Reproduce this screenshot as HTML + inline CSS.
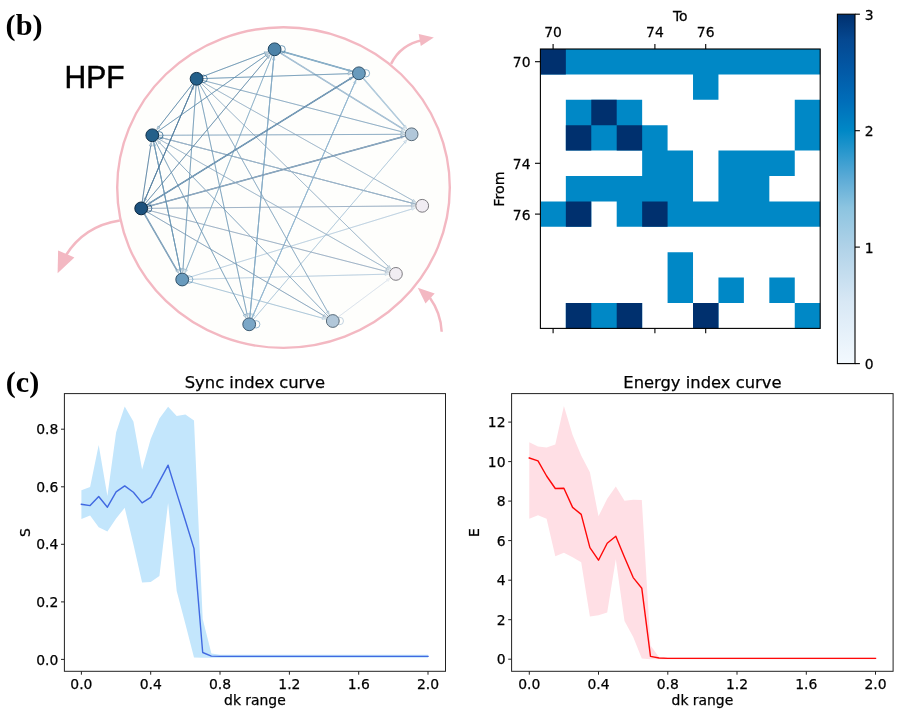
<!DOCTYPE html>
<html><head><meta charset="utf-8"><title>Figure</title>
<style>html,body{margin:0;padding:0;background:#fff}svg{display:block}.t text{stroke:#000;stroke-width:0.25px}</style></head>
<body>
<svg width="902" height="714" viewBox="0 0 902 714">
<defs><linearGradient id="cb" x1="0" y1="1" x2="0" y2="0"><stop offset="0.0000" stop-color="#f3f9fe"/><stop offset="0.1767" stop-color="#d8e8f5"/><stop offset="0.3333" stop-color="#b0d2e8"/><stop offset="0.4467" stop-color="#8cc4e0"/><stop offset="0.5333" stop-color="#5aaad6"/><stop offset="0.6667" stop-color="#0088c6"/><stop offset="0.7533" stop-color="#006db9"/><stop offset="0.8400" stop-color="#0259a6"/><stop offset="0.9267" stop-color="#054891"/><stop offset="1.0000" stop-color="#00306e"/></linearGradient></defs>
<rect width="902" height="714" fill="#fff"/>
<ellipse cx="283.5" cy="187.6" rx="166.3" ry="160.3" fill="#fefefc" stroke="#f3b8c2" stroke-width="2.4"/>
<path d="M391.1,63.9 Q400.5,44.5 423,40" fill="none" stroke="#f3b8c2" stroke-width="2.5"/>
<polygon points="418.7,34.1 433.8,37.6 420.8,46.1" fill="#f3b8c2"/>
<path d="M119.8,220.6 Q84,226 65.5,256" fill="none" stroke="#f3b8c2" stroke-width="2.5"/>
<polygon points="58.1,250.4 74.4,257.4 57.6,273.3" fill="#f3b8c2"/>
<path d="M441.7,331.7 Q440.8,313 430,298" fill="none" stroke="#f3b8c2" stroke-width="2.5"/>
<polygon points="417.8,287.8 434.7,293.5 425.5,303.5" fill="#f3b8c2"/>
<g fill="none" stroke-linecap="butt">
<line x1="332.8" y1="321.0" x2="387.2" y2="280.4" stroke="#cbd6e3" stroke-width="0.98" stroke-opacity="0.85"/>
<line x1="332.8" y1="321.0" x2="387.2" y2="280.4" stroke="#fff" stroke-width="0.41" stroke-opacity="0.5"/>
<polygon points="390.3,278.1 388.1,281.5 386.4,279.2" fill="#cbd6e3" fill-opacity="0.3" stroke="#cbd6e3" stroke-width="0.45" stroke-opacity="0.6"/>
<line x1="182.2" y1="279.5" x2="385.1" y2="274.2" stroke="#9fbcd3" stroke-width="0.98" stroke-opacity="0.85"/>
<line x1="182.2" y1="279.5" x2="385.1" y2="274.2" stroke="#fff" stroke-width="0.41" stroke-opacity="0.5"/>
<polygon points="388.9,274.1 385.1,275.6 385.1,272.8" fill="#9fbcd3" fill-opacity="0.3" stroke="#9fbcd3" stroke-width="0.45" stroke-opacity="0.6"/>
<line x1="182.2" y1="279.5" x2="411.9" y2="209.0" stroke="#9fbcd3" stroke-width="0.98" stroke-opacity="0.85"/>
<line x1="182.2" y1="279.5" x2="411.9" y2="209.0" stroke="#fff" stroke-width="0.41" stroke-opacity="0.5"/>
<polygon points="415.5,207.9 412.3,210.3 411.5,207.6" fill="#9fbcd3" fill-opacity="0.3" stroke="#9fbcd3" stroke-width="0.45" stroke-opacity="0.6"/>
<line x1="249.2" y1="324.3" x2="404.6" y2="142.5" stroke="#91b4ce" stroke-width="0.98" stroke-opacity="0.85"/>
<line x1="249.2" y1="324.3" x2="404.6" y2="142.5" stroke="#fff" stroke-width="0.41" stroke-opacity="0.5"/>
<polygon points="407.1,139.6 405.6,143.4 403.5,141.6" fill="#91b4ce" fill-opacity="0.3" stroke="#91b4ce" stroke-width="0.45" stroke-opacity="0.6"/>
<line x1="182.2" y1="279.5" x2="322.4" y2="318.1" stroke="#86adc8" stroke-width="0.98" stroke-opacity="0.85"/>
<line x1="182.2" y1="279.5" x2="322.4" y2="318.1" stroke="#fff" stroke-width="0.41" stroke-opacity="0.5"/>
<polygon points="326.1,319.1 322.0,319.5 322.8,316.8" fill="#86adc8" fill-opacity="0.3" stroke="#86adc8" stroke-width="0.45" stroke-opacity="0.6"/>
<line x1="358.9" y1="73.3" x2="404.5" y2="126.1" stroke="#86adc8" stroke-width="1.45" stroke-opacity="0.85"/>
<line x1="358.9" y1="73.3" x2="404.5" y2="126.1" stroke="#fff" stroke-width="0.61" stroke-opacity="0.5"/>
<polygon points="407.0,129.0 403.5,127.0 405.6,125.2" fill="#86adc8" fill-opacity="0.3" stroke="#86adc8" stroke-width="0.45" stroke-opacity="0.6"/>
<line x1="249.2" y1="324.3" x2="354.6" y2="83.2" stroke="#70a0c1" stroke-width="0.98" stroke-opacity="0.85"/>
<line x1="249.2" y1="324.3" x2="354.6" y2="83.2" stroke="#fff" stroke-width="0.41" stroke-opacity="0.5"/>
<polygon points="356.1,79.7 355.9,83.8 353.3,82.6" fill="#70a0c1" fill-opacity="0.3" stroke="#70a0c1" stroke-width="0.45" stroke-opacity="0.6"/>
<line x1="358.9" y1="73.3" x2="253.5" y2="314.4" stroke="#70a0c1" stroke-width="0.98" stroke-opacity="0.85"/>
<line x1="358.9" y1="73.3" x2="253.5" y2="314.4" stroke="#fff" stroke-width="0.41" stroke-opacity="0.5"/>
<polygon points="252.0,317.9 252.2,313.8 254.8,315.0" fill="#70a0c1" fill-opacity="0.3" stroke="#70a0c1" stroke-width="0.45" stroke-opacity="0.6"/>
<line x1="274.6" y1="49.3" x2="402.4" y2="128.6" stroke="#759ebc" stroke-width="1.45" stroke-opacity="0.85"/>
<line x1="274.6" y1="49.3" x2="402.4" y2="128.6" stroke="#fff" stroke-width="0.61" stroke-opacity="0.5"/>
<polygon points="405.7,130.6 401.7,129.8 403.2,127.4" fill="#759ebc" fill-opacity="0.3" stroke="#759ebc" stroke-width="0.45" stroke-opacity="0.6"/>
<line x1="196.6" y1="78.8" x2="388.2" y2="266.3" stroke="#7698b4" stroke-width="0.98" stroke-opacity="0.85"/>
<line x1="196.6" y1="78.8" x2="388.2" y2="266.3" stroke="#fff" stroke-width="0.41" stroke-opacity="0.5"/>
<polygon points="390.9,269.0 387.2,267.3 389.2,265.3" fill="#7698b4" fill-opacity="0.3" stroke="#7698b4" stroke-width="0.45" stroke-opacity="0.6"/>
<line x1="196.6" y1="78.8" x2="412.8" y2="200.5" stroke="#7698b4" stroke-width="0.98" stroke-opacity="0.85"/>
<line x1="196.6" y1="78.8" x2="412.8" y2="200.5" stroke="#fff" stroke-width="0.41" stroke-opacity="0.5"/>
<polygon points="416.1,202.4 412.1,201.7 413.5,199.3" fill="#7698b4" fill-opacity="0.3" stroke="#7698b4" stroke-width="0.45" stroke-opacity="0.6"/>
<line x1="152.3" y1="135.3" x2="386.5" y2="268.6" stroke="#7698b4" stroke-width="0.98" stroke-opacity="0.85"/>
<line x1="152.3" y1="135.3" x2="386.5" y2="268.6" stroke="#fff" stroke-width="0.41" stroke-opacity="0.5"/>
<polygon points="389.8,270.4 385.8,269.8 387.2,267.3" fill="#7698b4" fill-opacity="0.3" stroke="#7698b4" stroke-width="0.45" stroke-opacity="0.6"/>
<line x1="152.3" y1="135.3" x2="411.8" y2="203.1" stroke="#7698b4" stroke-width="0.98" stroke-opacity="0.85"/>
<line x1="152.3" y1="135.3" x2="411.8" y2="203.1" stroke="#fff" stroke-width="0.41" stroke-opacity="0.5"/>
<polygon points="415.4,204.0 411.4,204.4 412.1,201.7" fill="#7698b4" fill-opacity="0.3" stroke="#7698b4" stroke-width="0.45" stroke-opacity="0.6"/>
<line x1="422.2" y1="205.8" x2="162.7" y2="138.0" stroke="#7698b4" stroke-width="0.98" stroke-opacity="0.85"/>
<line x1="422.2" y1="205.8" x2="162.7" y2="138.0" stroke="#fff" stroke-width="0.41" stroke-opacity="0.5"/>
<polygon points="159.1,137.1 163.1,136.7 162.4,139.4" fill="#7698b4" fill-opacity="0.3" stroke="#7698b4" stroke-width="0.45" stroke-opacity="0.6"/>
<line x1="141.2" y1="208.4" x2="385.4" y2="271.2" stroke="#718fac" stroke-width="0.98" stroke-opacity="0.85"/>
<line x1="141.2" y1="208.4" x2="385.4" y2="271.2" stroke="#fff" stroke-width="0.41" stroke-opacity="0.5"/>
<polygon points="389.1,272.2 385.1,272.6 385.8,269.9" fill="#718fac" fill-opacity="0.3" stroke="#718fac" stroke-width="0.45" stroke-opacity="0.6"/>
<line x1="141.2" y1="208.4" x2="411.4" y2="205.9" stroke="#718fac" stroke-width="0.98" stroke-opacity="0.85"/>
<line x1="141.2" y1="208.4" x2="411.4" y2="205.9" stroke="#fff" stroke-width="0.41" stroke-opacity="0.5"/>
<polygon points="415.2,205.9 411.4,207.3 411.4,204.5" fill="#718fac" fill-opacity="0.3" stroke="#718fac" stroke-width="0.45" stroke-opacity="0.6"/>
<line x1="249.2" y1="324.3" x2="273.6" y2="60.1" stroke="#5f91b4" stroke-width="0.98" stroke-opacity="0.85"/>
<line x1="249.2" y1="324.3" x2="273.6" y2="60.1" stroke="#fff" stroke-width="0.41" stroke-opacity="0.5"/>
<polygon points="274.0,56.3 275.0,60.2 272.2,59.9" fill="#5f91b4" fill-opacity="0.3" stroke="#5f91b4" stroke-width="0.45" stroke-opacity="0.6"/>
<line x1="274.6" y1="49.3" x2="250.2" y2="313.5" stroke="#5f91b4" stroke-width="0.98" stroke-opacity="0.85"/>
<line x1="274.6" y1="49.3" x2="250.2" y2="313.5" stroke="#fff" stroke-width="0.41" stroke-opacity="0.5"/>
<polygon points="249.8,317.3 248.8,313.4 251.6,313.7" fill="#5f91b4" fill-opacity="0.3" stroke="#5f91b4" stroke-width="0.45" stroke-opacity="0.6"/>
<line x1="274.6" y1="49.3" x2="186.2" y2="269.5" stroke="#588db0" stroke-width="0.98" stroke-opacity="0.85"/>
<line x1="274.6" y1="49.3" x2="186.2" y2="269.5" stroke="#fff" stroke-width="0.41" stroke-opacity="0.5"/>
<polygon points="184.8,273.0 184.9,269.0 187.5,270.0" fill="#588db0" fill-opacity="0.3" stroke="#588db0" stroke-width="0.45" stroke-opacity="0.6"/>
<line x1="274.6" y1="49.3" x2="348.5" y2="70.3" stroke="#588db0" stroke-width="0.98" stroke-opacity="0.85"/>
<line x1="274.6" y1="49.3" x2="348.5" y2="70.3" stroke="#fff" stroke-width="0.41" stroke-opacity="0.5"/>
<polygon points="352.2,71.4 348.1,71.7 348.9,69.0" fill="#588db0" fill-opacity="0.3" stroke="#588db0" stroke-width="0.45" stroke-opacity="0.6"/>
<line x1="358.9" y1="73.3" x2="285.0" y2="52.3" stroke="#588db0" stroke-width="1.45" stroke-opacity="0.85"/>
<line x1="358.9" y1="73.3" x2="285.0" y2="52.3" stroke="#fff" stroke-width="0.61" stroke-opacity="0.5"/>
<polygon points="281.3,51.2 285.4,50.9 284.6,53.6" fill="#588db0" fill-opacity="0.3" stroke="#588db0" stroke-width="0.45" stroke-opacity="0.6"/>
<line x1="196.6" y1="78.8" x2="401.1" y2="131.6" stroke="#5c89aa" stroke-width="0.98" stroke-opacity="0.85"/>
<line x1="196.6" y1="78.8" x2="401.1" y2="131.6" stroke="#fff" stroke-width="0.41" stroke-opacity="0.5"/>
<polygon points="404.8,132.6 400.8,133.0 401.5,130.2" fill="#5c89aa" fill-opacity="0.3" stroke="#5c89aa" stroke-width="0.45" stroke-opacity="0.6"/>
<line x1="196.6" y1="78.8" x2="327.5" y2="311.6" stroke="#5c89aa" stroke-width="0.98" stroke-opacity="0.85"/>
<line x1="196.6" y1="78.8" x2="327.5" y2="311.6" stroke="#fff" stroke-width="0.41" stroke-opacity="0.5"/>
<polygon points="329.4,314.9 326.3,312.3 328.7,310.9" fill="#5c89aa" fill-opacity="0.3" stroke="#5c89aa" stroke-width="0.45" stroke-opacity="0.6"/>
<line x1="152.3" y1="135.3" x2="400.8" y2="134.3" stroke="#5c89aa" stroke-width="0.98" stroke-opacity="0.85"/>
<line x1="152.3" y1="135.3" x2="400.8" y2="134.3" stroke="#fff" stroke-width="0.41" stroke-opacity="0.5"/>
<polygon points="404.6,134.3 400.8,135.7 400.8,132.9" fill="#5c89aa" fill-opacity="0.3" stroke="#5c89aa" stroke-width="0.45" stroke-opacity="0.6"/>
<line x1="332.8" y1="321.0" x2="159.8" y2="143.0" stroke="#5c89aa" stroke-width="0.98" stroke-opacity="0.85"/>
<line x1="332.8" y1="321.0" x2="159.8" y2="143.0" stroke="#fff" stroke-width="0.41" stroke-opacity="0.5"/>
<polygon points="157.2,140.3 160.8,142.1 158.8,144.0" fill="#5c89aa" fill-opacity="0.3" stroke="#5c89aa" stroke-width="0.45" stroke-opacity="0.6"/>
<line x1="411.6" y1="134.3" x2="151.6" y2="205.5" stroke="#5880a2" stroke-width="0.98" stroke-opacity="0.85"/>
<line x1="411.6" y1="134.3" x2="151.6" y2="205.5" stroke="#fff" stroke-width="0.41" stroke-opacity="0.5"/>
<polygon points="148.0,206.5 151.2,204.2 152.0,206.9" fill="#5880a2" fill-opacity="0.3" stroke="#5880a2" stroke-width="0.45" stroke-opacity="0.6"/>
<line x1="141.2" y1="208.4" x2="401.2" y2="137.2" stroke="#5880a2" stroke-width="1.45" stroke-opacity="0.85"/>
<line x1="141.2" y1="208.4" x2="401.2" y2="137.2" stroke="#fff" stroke-width="0.61" stroke-opacity="0.5"/>
<polygon points="404.8,136.2 401.6,138.5 400.8,135.8" fill="#5880a2" fill-opacity="0.3" stroke="#5880a2" stroke-width="0.45" stroke-opacity="0.6"/>
<line x1="141.2" y1="208.4" x2="323.5" y2="315.5" stroke="#5880a2" stroke-width="0.98" stroke-opacity="0.85"/>
<line x1="141.2" y1="208.4" x2="323.5" y2="315.5" stroke="#fff" stroke-width="0.41" stroke-opacity="0.5"/>
<polygon points="326.8,317.5 322.8,316.7 324.2,314.3" fill="#5880a2" fill-opacity="0.3" stroke="#5880a2" stroke-width="0.45" stroke-opacity="0.6"/>
<line x1="196.6" y1="78.8" x2="246.9" y2="313.7" stroke="#477ca2" stroke-width="0.98" stroke-opacity="0.85"/>
<line x1="196.6" y1="78.8" x2="246.9" y2="313.7" stroke="#fff" stroke-width="0.41" stroke-opacity="0.5"/>
<polygon points="247.7,317.5 245.6,314.0 248.3,313.4" fill="#477ca2" fill-opacity="0.3" stroke="#477ca2" stroke-width="0.45" stroke-opacity="0.6"/>
<line x1="152.3" y1="135.3" x2="244.3" y2="314.7" stroke="#477ca2" stroke-width="0.98" stroke-opacity="0.85"/>
<line x1="152.3" y1="135.3" x2="244.3" y2="314.7" stroke="#fff" stroke-width="0.41" stroke-opacity="0.5"/>
<polygon points="246.0,318.1 243.0,315.3 245.5,314.1" fill="#477ca2" fill-opacity="0.3" stroke="#477ca2" stroke-width="0.45" stroke-opacity="0.6"/>
<line x1="196.6" y1="78.8" x2="183.0" y2="268.7" stroke="#40789e" stroke-width="0.98" stroke-opacity="0.85"/>
<line x1="196.6" y1="78.8" x2="183.0" y2="268.7" stroke="#fff" stroke-width="0.41" stroke-opacity="0.5"/>
<polygon points="182.7,272.5 181.6,268.6 184.4,268.8" fill="#40789e" fill-opacity="0.3" stroke="#40789e" stroke-width="0.45" stroke-opacity="0.6"/>
<line x1="196.6" y1="78.8" x2="348.1" y2="73.7" stroke="#40789e" stroke-width="0.98" stroke-opacity="0.85"/>
<line x1="196.6" y1="78.8" x2="348.1" y2="73.7" stroke="#fff" stroke-width="0.41" stroke-opacity="0.5"/>
<polygon points="351.9,73.5 348.2,75.1 348.1,72.3" fill="#40789e" fill-opacity="0.3" stroke="#40789e" stroke-width="0.45" stroke-opacity="0.6"/>
<line x1="182.2" y1="279.5" x2="154.5" y2="145.9" stroke="#40789e" stroke-width="0.98" stroke-opacity="0.85"/>
<line x1="182.2" y1="279.5" x2="154.5" y2="145.9" stroke="#fff" stroke-width="0.41" stroke-opacity="0.5"/>
<polygon points="153.7,142.2 155.9,145.6 153.1,146.2" fill="#40789e" fill-opacity="0.3" stroke="#40789e" stroke-width="0.45" stroke-opacity="0.6"/>
<line x1="152.3" y1="135.3" x2="180.0" y2="268.9" stroke="#40789e" stroke-width="0.98" stroke-opacity="0.85"/>
<line x1="152.3" y1="135.3" x2="180.0" y2="268.9" stroke="#fff" stroke-width="0.41" stroke-opacity="0.5"/>
<polygon points="180.8,272.6 178.6,269.2 181.4,268.6" fill="#40789e" fill-opacity="0.3" stroke="#40789e" stroke-width="0.45" stroke-opacity="0.6"/>
<line x1="141.2" y1="208.4" x2="176.8" y2="270.1" stroke="#3b6f97" stroke-width="1.45" stroke-opacity="0.85"/>
<line x1="141.2" y1="208.4" x2="176.8" y2="270.1" stroke="#fff" stroke-width="0.61" stroke-opacity="0.5"/>
<polygon points="178.7,273.4 175.6,270.8 178.0,269.4" fill="#3b6f97" fill-opacity="0.3" stroke="#3b6f97" stroke-width="0.45" stroke-opacity="0.6"/>
<line x1="141.2" y1="208.4" x2="349.7" y2="79.0" stroke="#3b6f97" stroke-width="0.98" stroke-opacity="0.85"/>
<line x1="141.2" y1="208.4" x2="349.7" y2="79.0" stroke="#fff" stroke-width="0.41" stroke-opacity="0.5"/>
<polygon points="353.0,77.0 350.5,80.2 349.0,77.8" fill="#3b6f97" fill-opacity="0.3" stroke="#3b6f97" stroke-width="0.45" stroke-opacity="0.6"/>
<line x1="358.9" y1="73.3" x2="150.4" y2="202.7" stroke="#3b6f97" stroke-width="1.45" stroke-opacity="0.85"/>
<line x1="358.9" y1="73.3" x2="150.4" y2="202.7" stroke="#fff" stroke-width="0.61" stroke-opacity="0.5"/>
<polygon points="147.1,204.7 149.6,201.5 151.1,203.9" fill="#3b6f97" fill-opacity="0.3" stroke="#3b6f97" stroke-width="0.45" stroke-opacity="0.6"/>
<line x1="196.6" y1="78.8" x2="264.5" y2="53.1" stroke="#346e96" stroke-width="0.98" stroke-opacity="0.85"/>
<line x1="196.6" y1="78.8" x2="264.5" y2="53.1" stroke="#fff" stroke-width="0.41" stroke-opacity="0.5"/>
<polygon points="268.1,51.8 265.0,54.4 264.0,51.8" fill="#346e96" fill-opacity="0.3" stroke="#346e96" stroke-width="0.45" stroke-opacity="0.6"/>
<line x1="152.3" y1="135.3" x2="265.8" y2="55.5" stroke="#346e96" stroke-width="0.98" stroke-opacity="0.85"/>
<line x1="152.3" y1="135.3" x2="265.8" y2="55.5" stroke="#fff" stroke-width="0.41" stroke-opacity="0.5"/>
<polygon points="268.9,53.3 266.6,56.7 265.0,54.4" fill="#346e96" fill-opacity="0.3" stroke="#346e96" stroke-width="0.45" stroke-opacity="0.6"/>
<line x1="141.2" y1="208.4" x2="267.7" y2="57.6" stroke="#30658e" stroke-width="0.98" stroke-opacity="0.85"/>
<line x1="141.2" y1="208.4" x2="267.7" y2="57.6" stroke="#fff" stroke-width="0.41" stroke-opacity="0.5"/>
<polygon points="270.1,54.7 268.7,58.5 266.6,56.7" fill="#30658e" fill-opacity="0.3" stroke="#30658e" stroke-width="0.45" stroke-opacity="0.6"/>
<line x1="196.6" y1="78.8" x2="159.0" y2="126.8" stroke="#24608a" stroke-width="0.98" stroke-opacity="0.85"/>
<line x1="196.6" y1="78.8" x2="159.0" y2="126.8" stroke="#fff" stroke-width="0.41" stroke-opacity="0.5"/>
<polygon points="156.6,129.8 157.9,125.9 160.1,127.7" fill="#24608a" fill-opacity="0.3" stroke="#24608a" stroke-width="0.45" stroke-opacity="0.6"/>
<line x1="196.6" y1="78.8" x2="145.4" y2="198.5" stroke="#1f5782" stroke-width="0.98" stroke-opacity="0.85"/>
<line x1="196.6" y1="78.8" x2="145.4" y2="198.5" stroke="#fff" stroke-width="0.41" stroke-opacity="0.5"/>
<polygon points="144.0,202.0 144.2,197.9 146.7,199.0" fill="#1f5782" fill-opacity="0.3" stroke="#1f5782" stroke-width="0.45" stroke-opacity="0.6"/>
<line x1="141.2" y1="208.4" x2="192.4" y2="88.7" stroke="#1f5782" stroke-width="0.98" stroke-opacity="0.85"/>
<line x1="141.2" y1="208.4" x2="192.4" y2="88.7" stroke="#fff" stroke-width="0.41" stroke-opacity="0.5"/>
<polygon points="193.8,85.2 193.6,89.3 191.1,88.2" fill="#1f5782" fill-opacity="0.3" stroke="#1f5782" stroke-width="0.45" stroke-opacity="0.6"/>
<line x1="141.2" y1="208.4" x2="150.7" y2="146.0" stroke="#1f5782" stroke-width="0.98" stroke-opacity="0.85"/>
<line x1="141.2" y1="208.4" x2="150.7" y2="146.0" stroke="#fff" stroke-width="0.41" stroke-opacity="0.5"/>
<polygon points="151.2,142.2 152.1,146.2 149.3,145.8" fill="#1f5782" fill-opacity="0.3" stroke="#1f5782" stroke-width="0.45" stroke-opacity="0.6"/>
</g>
<circle cx="203.6" cy="78.8" r="3.7" fill="none" stroke="#24608a" stroke-width="0.9" stroke-opacity="0.85"/>
<circle cx="256.2" cy="324.3" r="3.7" fill="none" stroke="#7ba7c7" stroke-width="0.9" stroke-opacity="0.85"/>
<circle cx="281.6" cy="49.3" r="3.7" fill="none" stroke="#4d83a8" stroke-width="0.9" stroke-opacity="0.85"/>
<circle cx="189.2" cy="279.5" r="3.7" fill="none" stroke="#699bbd" stroke-width="0.9" stroke-opacity="0.85"/>
<circle cx="159.3" cy="135.3" r="3.7" fill="none" stroke="#24608a" stroke-width="0.9" stroke-opacity="0.85"/>
<circle cx="148.2" cy="208.4" r="3.7" fill="none" stroke="#1c517d" stroke-width="0.9" stroke-opacity="0.85"/>
<circle cx="339.8" cy="321.0" r="3.7" fill="none" stroke="#b1c7d9" stroke-width="0.9" stroke-opacity="0.85"/>
<circle cx="365.9" cy="73.3" r="3.7" fill="none" stroke="#699bbd" stroke-width="0.9" stroke-opacity="0.85"/>
<circle cx="274.6" cy="49.3" r="6.4" fill="#4d83a8" stroke="#1f4560" stroke-width="1"/>
<circle cx="358.9" cy="73.3" r="6.4" fill="#699bbd" stroke="#2f5068" stroke-width="1"/>
<circle cx="411.6" cy="134.3" r="6.4" fill="#b1c7d9" stroke="#5a6c7a" stroke-width="1"/>
<circle cx="422.2" cy="205.8" r="6.4" fill="#f1edf3" stroke="#7d7b80" stroke-width="1"/>
<circle cx="395.9" cy="273.9" r="6.4" fill="#f1edf3" stroke="#7d7b80" stroke-width="1"/>
<circle cx="332.8" cy="321" r="6.4" fill="#b1c7d9" stroke="#5a6c7a" stroke-width="1"/>
<circle cx="249.2" cy="324.3" r="6.4" fill="#7ba7c7" stroke="#3c5a72" stroke-width="1"/>
<circle cx="182.2" cy="279.5" r="6.4" fill="#699bbd" stroke="#2f5068" stroke-width="1"/>
<circle cx="141.2" cy="208.4" r="6.4" fill="#1c517d" stroke="#0c2840" stroke-width="1"/>
<circle cx="152.3" cy="135.3" r="6.4" fill="#24608a" stroke="#10314b" stroke-width="1"/>
<circle cx="196.6" cy="78.8" r="6.4" fill="#24608a" stroke="#10314b" stroke-width="1"/>
<text transform="translate(5.6,34.5) scale(1.04,1)" font-family="'Liberation Serif',serif" font-weight="bold" font-size="29">(b)</text>
<text transform="translate(5.8,391.5) scale(1.04,1)" font-family="'Liberation Serif',serif" font-weight="bold" font-size="29">(c)</text>
<text transform="translate(64.6,88) scale(1,1.04)" font-family="'Liberation Sans',sans-serif" font-size="30" stroke="#000" stroke-width="0.5">HPF</text>
<g font-family="'DejaVu Sans',sans-serif" font-size="13.9" fill="#000" class="t">
<path d="M540.40,49.00H820.20V74.40H540.40ZM693.02,74.40H718.45V99.80H693.02ZM565.84,99.80H642.15V125.20H565.84ZM794.76,99.80H820.20V125.20H794.76ZM565.84,125.20H667.58V150.60H565.84ZM794.76,125.20H820.20V150.60H794.76ZM642.15,150.60H693.02V176.00H642.15ZM718.45,150.60H794.76V176.00H718.45ZM565.84,176.00H693.02V201.40H565.84ZM718.45,176.00H769.33V201.40H718.45ZM540.40,201.40H591.27V226.80H540.40ZM616.71,201.40H820.20V226.80H616.71ZM667.58,252.20H693.02V277.60H667.58ZM667.58,277.60H693.02V303.00H667.58ZM718.45,277.60H743.89V303.00H718.45ZM769.33,277.60H794.76V303.00H769.33ZM565.84,303.00H642.15V328.40H565.84ZM693.02,303.00H718.45V328.40H693.02ZM794.76,303.00H820.20V328.40H794.76Z" fill="#0088c6"/>
<path d="M540.40,49.00H565.84V74.40H540.40ZM591.27,99.80H616.71V125.20H591.27ZM565.84,125.20H591.27V150.60H565.84ZM616.71,125.20H642.15V150.60H616.71ZM565.84,201.40H591.27V226.80H565.84ZM642.15,201.40H667.58V226.80H642.15ZM565.84,303.00H591.27V328.40H565.84ZM616.71,303.00H642.15V328.40H616.71ZM693.02,303.00H718.45V328.40H693.02Z" fill="#00306e"/>
<rect x="540.4" y="49.0" width="279.8" height="279.4" fill="none" stroke="#000" stroke-width="1.1"/>
<line x1="553.1" y1="49.0" x2="553.1" y2="44.1" stroke="#000" stroke-width="1.1"/>
<line x1="553.1" y1="328.4" x2="553.1" y2="333.29999999999995" stroke="#000" stroke-width="1.1"/>
<line x1="540.4" y1="61.7" x2="535.0" y2="61.7" stroke="#000" stroke-width="1.1"/>
<text transform="translate(553.1,36.8) scale(1,1.07)" text-anchor="middle">70</text>
<text transform="translate(530.5,67.2) scale(1,1.07)" text-anchor="end">70</text>
<line x1="654.9" y1="49.0" x2="654.9" y2="44.1" stroke="#000" stroke-width="1.1"/>
<line x1="654.9" y1="328.4" x2="654.9" y2="333.29999999999995" stroke="#000" stroke-width="1.1"/>
<line x1="540.4" y1="163.3" x2="535.0" y2="163.3" stroke="#000" stroke-width="1.1"/>
<text transform="translate(654.9,36.8) scale(1,1.07)" text-anchor="middle">74</text>
<text transform="translate(530.5,168.9) scale(1,1.07)" text-anchor="end">74</text>
<line x1="705.7" y1="49.0" x2="705.7" y2="44.1" stroke="#000" stroke-width="1.1"/>
<line x1="705.7" y1="328.4" x2="705.7" y2="333.29999999999995" stroke="#000" stroke-width="1.1"/>
<line x1="540.4" y1="214.1" x2="535.0" y2="214.1" stroke="#000" stroke-width="1.1"/>
<text transform="translate(705.7,36.8) scale(1,1.07)" text-anchor="middle">76</text>
<text transform="translate(530.5,219.7) scale(1,1.07)" text-anchor="end">76</text>
<text transform="translate(680.3,20.5) scale(1,1.07)" text-anchor="middle">To</text>
<text transform="translate(504.2,189.1) scale(1,1.02) rotate(-90)" text-anchor="middle">From</text>
<rect x="837.4" y="14.2" width="17.6" height="349.4" fill="url(#cb)" stroke="#000" stroke-width="1.1"/>
<line x1="855.0" y1="363.6" x2="859.9" y2="363.6" stroke="#000" stroke-width="1.1"/>
<text transform="translate(864.8,369.3) scale(1,1.07)">0</text>
<line x1="855.0" y1="247.1" x2="859.9" y2="247.1" stroke="#000" stroke-width="1.1"/>
<text transform="translate(864.8,252.8) scale(1,1.07)">1</text>
<line x1="855.0" y1="130.7" x2="859.9" y2="130.7" stroke="#000" stroke-width="1.1"/>
<text transform="translate(864.8,136.4) scale(1,1.07)">2</text>
<line x1="855.0" y1="14.2" x2="859.9" y2="14.2" stroke="#000" stroke-width="1.1"/>
<text transform="translate(864.8,19.9) scale(1,1.07)">3</text>
<polygon points="81.4,490.2 90.1,487.0 98.7,445.0 107.4,496.0 116.1,432.4 124.7,406.5 133.4,421.4 142.1,469.5 150.7,439.0 159.4,418.6 168.1,406.8 176.7,416.0 185.4,414.5 194.0,420.6 202.7,619.1 211.4,653.6 220.0,654.8 228.7,654.8 237.4,654.8 246.0,654.8 254.7,654.8 263.4,654.8 272.0,654.8 280.7,654.8 289.4,654.8 298.0,654.8 306.7,654.8 315.4,654.8 324.0,654.8 332.7,654.8 341.4,654.8 350.0,654.8 358.7,654.8 367.3,654.8 376.0,654.8 384.7,654.8 393.3,654.8 402.0,654.8 410.7,654.8 419.3,654.8 428.0,654.8 428.0,657.7 419.3,657.7 410.7,657.7 402.0,657.7 393.3,657.7 384.7,657.7 376.0,657.7 367.3,657.7 358.7,657.7 350.0,657.7 341.4,657.7 332.7,657.7 324.0,657.7 315.4,657.7 306.7,657.7 298.0,657.7 289.4,657.7 280.7,657.7 272.0,657.7 263.4,657.7 254.7,657.7 246.0,657.7 237.4,657.7 228.7,657.7 220.0,657.7 211.4,657.7 202.7,657.7 194.0,657.4 185.4,624.1 176.7,590.9 168.1,502.9 159.4,576.1 150.7,582.0 142.1,582.6 133.4,544.3 124.7,507.8 116.1,518.4 107.4,531.6 98.7,527.3 90.1,515.5 81.4,519.0" fill="#c3e6fc"/>
<polyline points="81.4,504.3 90.1,505.6 98.7,496.5 107.4,507.2 116.1,491.9 124.7,485.9 133.4,492.2 142.1,502.9 150.7,497.4 159.4,481.3 168.1,465.2 176.7,493.1 185.4,520.7 194.0,548.6 202.7,652.5 211.4,656.1 220.0,656.4 228.7,656.4 237.4,656.4 246.0,656.4 254.7,656.4 263.4,656.4 272.0,656.4 280.7,656.4 289.4,656.4 298.0,656.4 306.7,656.4 315.4,656.4 324.0,656.4 332.7,656.4 341.4,656.4 350.0,656.4 358.7,656.4 367.3,656.4 376.0,656.4 384.7,656.4 393.3,656.4 402.0,656.4 410.7,656.4 419.3,656.4 428.0,656.4" fill="none" stroke="#4169e1" stroke-width="1.4" stroke-linejoin="round" stroke-linecap="square"/>
<rect x="64.4" y="393.6" width="381.1" height="277.7" fill="none" stroke="#222" stroke-width="1"/>
<line x1="81.4" y1="671.3" x2="81.4" y2="674.6999999999999" stroke="#222" stroke-width="1"/>
<text x="81.4" y="688.6" text-anchor="middle">0.0</text>
<line x1="150.7" y1="671.3" x2="150.7" y2="674.6999999999999" stroke="#222" stroke-width="1"/>
<text x="150.7" y="688.6" text-anchor="middle">0.4</text>
<line x1="220.0" y1="671.3" x2="220.0" y2="674.6999999999999" stroke="#222" stroke-width="1"/>
<text x="220.0" y="688.6" text-anchor="middle">0.8</text>
<line x1="289.4" y1="671.3" x2="289.4" y2="674.6999999999999" stroke="#222" stroke-width="1"/>
<text x="289.4" y="688.6" text-anchor="middle">1.2</text>
<line x1="358.7" y1="671.3" x2="358.7" y2="674.6999999999999" stroke="#222" stroke-width="1"/>
<text x="358.7" y="688.6" text-anchor="middle">1.6</text>
<line x1="428.0" y1="671.3" x2="428.0" y2="674.6999999999999" stroke="#222" stroke-width="1"/>
<text x="428.0" y="688.6" text-anchor="middle">2.0</text>
<line x1="64.4" y1="659.4" x2="61.00000000000001" y2="659.4" stroke="#222" stroke-width="1"/>
<text x="58.3" y="664.5" text-anchor="end">0.0</text>
<line x1="64.4" y1="601.9" x2="61.00000000000001" y2="601.9" stroke="#222" stroke-width="1"/>
<text x="58.3" y="607.0" text-anchor="end">0.2</text>
<line x1="64.4" y1="544.3" x2="61.00000000000001" y2="544.3" stroke="#222" stroke-width="1"/>
<text x="58.3" y="549.4" text-anchor="end">0.4</text>
<line x1="64.4" y1="486.8" x2="61.00000000000001" y2="486.8" stroke="#222" stroke-width="1"/>
<text x="58.3" y="491.9" text-anchor="end">0.6</text>
<line x1="64.4" y1="429.2" x2="61.00000000000001" y2="429.2" stroke="#222" stroke-width="1"/>
<text x="58.3" y="434.3" text-anchor="end">0.8</text>
<text x="254.9" y="705.2" text-anchor="middle">dk range</text>
<text transform="translate(29.8,532.5) rotate(-90)" text-anchor="middle">S</text>
<text x="254.9" y="388.4" text-anchor="middle" font-size="16.35">Sync index curve</text>
<polygon points="529.3,442.2 538.0,446.6 546.6,447.6 555.3,444.6 563.9,406.1 572.6,434.9 581.2,455.5 589.9,472.3 598.5,516.3 607.2,498.7 615.8,486.5 624.5,500.7 633.2,499.7 641.8,500.1 650.5,645.4 659.1,657.2 667.8,657.6 676.4,657.6 685.1,657.6 693.7,657.6 702.4,657.6 711.1,657.6 719.7,657.6 728.4,657.6 737.0,657.6 745.7,657.6 754.3,657.6 763.0,657.6 771.6,657.6 780.3,657.6 789.0,657.6 797.6,657.6 806.3,657.6 814.9,657.6 823.6,657.6 832.2,657.6 840.9,657.6 849.5,657.6 858.2,657.6 866.8,657.6 875.5,657.6 875.5,659.2 866.8,659.2 858.2,659.2 849.5,659.2 840.9,659.2 832.2,659.2 823.6,659.2 814.9,659.2 806.3,659.2 797.6,659.2 789.0,659.2 780.3,659.2 771.6,659.2 763.0,659.2 754.3,659.2 745.7,659.2 737.0,659.2 728.4,659.2 719.7,659.2 711.1,659.2 702.4,659.2 693.7,659.2 685.1,659.2 676.4,659.2 667.8,659.2 659.1,659.2 650.5,659.2 641.8,658.4 633.2,636.9 624.5,621.1 615.8,559.2 607.2,612.4 598.5,615.3 589.9,616.5 581.2,562.2 572.6,557.2 563.9,552.7 555.3,556.3 546.6,518.7 538.0,515.3 529.3,518.7" fill="#ffdfe5"/>
<polyline points="529.3,458.0 538.0,460.8 546.6,476.0 555.3,488.5 563.9,488.3 572.6,507.4 581.2,514.4 589.9,547.6 598.5,560.2 607.2,543.2 615.8,536.3 624.5,557.2 633.2,577.6 641.8,588.3 650.5,656.4 659.1,658.0 667.8,658.4 676.4,658.4 685.1,658.4 693.7,658.4 702.4,658.4 711.1,658.4 719.7,658.4 728.4,658.4 737.0,658.4 745.7,658.4 754.3,658.4 763.0,658.4 771.6,658.4 780.3,658.4 789.0,658.4 797.6,658.4 806.3,658.4 814.9,658.4 823.6,658.4 832.2,658.4 840.9,658.4 849.5,658.4 858.2,658.4 866.8,658.4 875.5,658.4" fill="none" stroke="#ff0808" stroke-width="1.4" stroke-linejoin="round" stroke-linecap="square"/>
<rect x="511.6" y="393.6" width="381.5" height="277.7" fill="none" stroke="#222" stroke-width="1"/>
<line x1="529.3" y1="671.3" x2="529.3" y2="674.6999999999999" stroke="#222" stroke-width="1"/>
<text x="529.3" y="688.6" text-anchor="middle">0.0</text>
<line x1="598.5" y1="671.3" x2="598.5" y2="674.6999999999999" stroke="#222" stroke-width="1"/>
<text x="598.5" y="688.6" text-anchor="middle">0.4</text>
<line x1="667.8" y1="671.3" x2="667.8" y2="674.6999999999999" stroke="#222" stroke-width="1"/>
<text x="667.8" y="688.6" text-anchor="middle">0.8</text>
<line x1="737.0" y1="671.3" x2="737.0" y2="674.6999999999999" stroke="#222" stroke-width="1"/>
<text x="737.0" y="688.6" text-anchor="middle">1.2</text>
<line x1="806.3" y1="671.3" x2="806.3" y2="674.6999999999999" stroke="#222" stroke-width="1"/>
<text x="806.3" y="688.6" text-anchor="middle">1.6</text>
<line x1="875.5" y1="671.3" x2="875.5" y2="674.6999999999999" stroke="#222" stroke-width="1"/>
<text x="875.5" y="688.6" text-anchor="middle">2.0</text>
<line x1="511.6" y1="659.2" x2="508.20000000000005" y2="659.2" stroke="#222" stroke-width="1"/>
<text x="505.5" y="664.3" text-anchor="end">0</text>
<line x1="511.6" y1="619.7" x2="508.20000000000005" y2="619.7" stroke="#222" stroke-width="1"/>
<text x="505.5" y="624.8" text-anchor="end">2</text>
<line x1="511.6" y1="580.2" x2="508.20000000000005" y2="580.2" stroke="#222" stroke-width="1"/>
<text x="505.5" y="585.3" text-anchor="end">4</text>
<line x1="511.6" y1="540.6" x2="508.20000000000005" y2="540.6" stroke="#222" stroke-width="1"/>
<text x="505.5" y="545.7" text-anchor="end">6</text>
<line x1="511.6" y1="501.1" x2="508.20000000000005" y2="501.1" stroke="#222" stroke-width="1"/>
<text x="505.5" y="506.2" text-anchor="end">8</text>
<line x1="511.6" y1="461.6" x2="508.20000000000005" y2="461.6" stroke="#222" stroke-width="1"/>
<text x="505.5" y="466.7" text-anchor="end">10</text>
<line x1="511.6" y1="422.1" x2="508.20000000000005" y2="422.1" stroke="#222" stroke-width="1"/>
<text x="505.5" y="427.2" text-anchor="end">12</text>
<text x="702.4" y="705.2" text-anchor="middle">dk range</text>
<text transform="translate(478.5,532.5) rotate(-90)" text-anchor="middle">E</text>
<text x="702.4" y="388.4" text-anchor="middle" font-size="16.35">Energy index curve</text>
</g>
</svg>
</body></html>
